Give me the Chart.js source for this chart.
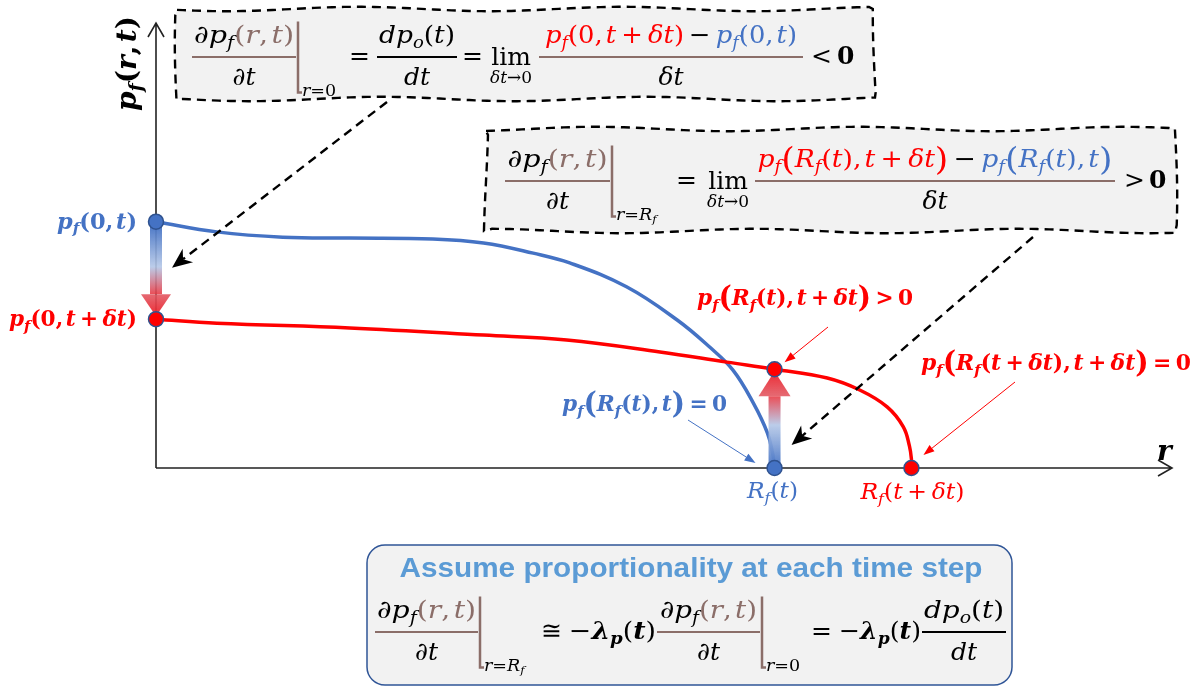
<!DOCTYPE html>
<html>
<head>
<meta charset="utf-8">
<script src="https://cdn.jsdelivr.net/npm/chart.js@4.4.0/dist/chart.umd.min.js"></script>
<style>
  html, body { margin: 0; background: #fff; }
  canvas { display: block; }
</style>
</head>
<body>
<canvas id="profile" width="1203" height="689"></canvas>
<script>
// pressure profile p_f(r, t) (blue) and one step later p_f(r, t + δt) (red), normalised r and p
const rOld = [0, 0.060, 0.125, 0.191, 0.273, 0.323, 0.372, 0.408, 0.464, 0.514, 0.546, 0.569, 0.589, 0.603, 0.608, 0.610];
const pOld = [0.556, 0.533, 0.521, 0.519, 0.517, 0.508, 0.485, 0.463, 0.409, 0.334, 0.273, 0.221, 0.147, 0.079, 0.034, 0];
const rNew = [0, 0.060, 0.191, 0.323, 0.405, 0.497, 0.563, 0.610, 0.662, 0.694, 0.721, 0.737, 0.743, 0.745, 0.745];
const pNew = [0.336, 0.327, 0.316, 0.300, 0.289, 0.262, 0.239, 0.223, 0.203, 0.176, 0.138, 0.093, 0.050, 0.020, 0];

const frontOld = rOld[rOld.length - 1];          // R_f(t)
const frontNew = rNew[rNew.length - 1];          // R_f(t + δt)
const pAtFront = pNew[rNew.indexOf(frontOld)];   // p_f(R_f(t), t + δt)

const BLUE = '#4472c4', RED = '#ff0000', BROWN = '#8b6e69', INK = '#000';
const SERIF = '"DejaVu Serif", "Liberation Serif", serif';
const SANS = '"Liberation Sans", Arial, sans-serif';

// ---- tiny math typesetter: "_x" or "_{xy}" = subscript, "[" "]" = tall parens
function tokens(str) {
  const out = [];
  for (let i = 0; i < str.length; i++) {
    let c = str[i];
    if (c === '_') {
      c = str[++i];
      if (c === '{') {
        const j = str.indexOf('}', i);
        for (const s of str.slice(i + 1, j)) out.push({ c: s, sub: true });
        i = j;
        continue;
      }
      out.push({ c, sub: true });
      continue;
    }
    out.push({ c, sub: false });
  }
  return out;
}

// segs: [text, colour, upright?, bold?]
function layout(ctx, segs, size, bold, tight) {
  const items = [];
  let x = 0;
  for (const [str, color, upright, segBold] of segs) {
    const b = segBold === undefined ? bold : segBold;
    for (const k of tokens(str)) {
      let ch = k.c, fs = k.sub ? size * 0.68 : size, dy = k.sub ? size * 0.2 : 0;
      if (ch === '[' || ch === ']') { ch = ch === '[' ? '(' : ')'; fs = size * 1.3; dy = size * 0.1; }
      const it = !upright && /[A-Za-zδλ∂]/.test(ch);
      const font = `${it ? 'italic ' : ''}${b ? 'bold ' : ''}${fs}px ${SERIF}`;
      ctx.font = font;
      const op = !tight && !k.sub && '+−=<>≅'.includes(ch);
      if (op && items.length) x += size * 0.2;
      items.push({ ch, x, dy, font, color });
      x += ctx.measureText(ch).width;
      if (op) x += size * 0.2;
      else if (ch === ',' && !k.sub && !tight) x += size * 0.12;
    }
  }
  return { items, w: x };
}

function math(ctx, segs, x, y, size, o = {}) {
  const L = layout(ctx, segs, size, o.bold, o.tight);
  const sx = o.width ? o.width / L.w : 1;
  const w = L.w * sx;
  const x0 = o.align === 'center' ? x - w / 2 : o.align === 'right' ? x - w : x;
  ctx.save();
  ctx.textBaseline = 'alphabetic';
  ctx.textAlign = 'left';
  ctx.translate(x0, y);
  if (o.rotate) ctx.rotate(o.rotate);
  ctx.scale(sx, 1);
  for (const it of L.items) {
    ctx.font = it.font;
    ctx.fillStyle = it.color;
    ctx.fillText(it.ch, it.x, it.dy);
  }
  ctx.restore();
  return w;
}

function frac(ctx, num, den, x0, x1, yLine, size, lineColor, numW) {
  const cx = (x0 + x1) / 2;
  math(ctx, num, cx, yLine - 0.55 * size, size, { align: 'center', width: numW });
  math(ctx, den, cx, yLine + 1.12 * size, size, { align: 'center' });
  ctx.save();
  ctx.strokeStyle = lineColor;
  ctx.lineWidth = 2;
  ctx.beginPath();
  ctx.moveTo(x0, yLine);
  ctx.lineTo(x1, yLine);
  ctx.stroke();
  ctx.restore();
}

// evaluation bar  |_{r=...}
function evalBar(ctx, x, yLine, size, sub) {
  const h = 1.42 * size;
  ctx.save();
  ctx.strokeStyle = BROWN;
  ctx.lineWidth = 2.5;
  ctx.beginPath();
  ctx.moveTo(x, yLine - h);
  ctx.lineTo(x, yLine + h);
  ctx.lineTo(x + 4, yLine + h);
  ctx.stroke();
  ctx.restore();
  math(ctx, [[sub, INK]], x + 4, yLine + h + 3, size * 0.7, { tight: true });
}

function op(ctx, str, x, yLine, size, bold) {
  math(ctx, [[str, INK]], x, yLine + 0.28 * size, size, { bold });
}

function lim(ctx, cx, yLine, size) {
  math(ctx, [['lim', INK, true]], cx, yLine + 0.3 * size, size, { align: 'center' });
  math(ctx, [['δt→0', INK]], cx, yLine + 1.02 * size, size * 0.68, { align: 'center', tight: true });
}

function wavyBox(ctx, x0, y0, x1, y1, ph) {
  const pts = [];
  const edge = (ax, ay, bx, by, p) => {
    const len = Math.hypot(bx - ax, by - ay), n = Math.ceil(len / 6);
    const nx = -(by - ay) / len, ny = (bx - ax) / len;
    for (let i = 0; i < n; i++) {
      const t = i / n, w = 2.2 * Math.sin(t * len / 42 + p);
      pts.push([ax + (bx - ax) * t + nx * w, ay + (by - ay) * t + ny * w]);
    }
  };
  edge(x0, y0, x1, y0, ph);
  edge(x1, y0, x1, y1, ph + 1);
  edge(x1, y1, x0, y1, ph + 2);
  edge(x0, y1, x0, y0, ph + 3);
  ctx.save();
  ctx.beginPath();
  pts.forEach(([x, y], i) => (i ? ctx.lineTo(x, y) : ctx.moveTo(x, y)));
  ctx.closePath();
  ctx.fillStyle = '#f2f2f2';
  ctx.fill();
  ctx.setLineDash([9, 6]);
  ctx.lineWidth = 2.4;
  ctx.strokeStyle = INK;
  ctx.stroke();
  ctx.restore();
}

function arrow(ctx, x0, y0, x1, y1, o = {}) {
  const { color = INK, width = 1, head = 10, headW = 7, dash = null, notch = 0 } = o;
  const a = Math.atan2(y1 - y0, x1 - x0), c = Math.cos(a), s = Math.sin(a);
  const bx = x1 - head * c, by = y1 - head * s;
  ctx.save();
  ctx.strokeStyle = color;
  ctx.fillStyle = color;
  ctx.lineWidth = width;
  if (dash) ctx.setLineDash(dash);
  ctx.beginPath();
  ctx.moveTo(x0, y0);
  ctx.lineTo(bx + notch * head * c, by + notch * head * s);
  ctx.stroke();
  ctx.setLineDash([]);
  ctx.beginPath();
  ctx.moveTo(x1, y1);
  ctx.lineTo(bx + headW / 2 * s, by - headW / 2 * c);
  ctx.lineTo(bx + notch * head * c, by + notch * head * s);
  ctx.lineTo(bx - headW / 2 * s, by + headW / 2 * c);
  ctx.closePath();
  ctx.fill();
  ctx.restore();
}

// thick shaded arrow showing the change of p over δt
function shiftArrow(ctx, x, yFrom, yTo, shaftW, headL, headW) {
  const dir = Math.sign(yTo - yFrom);
  const yb = yTo - dir * headL;
  const g = ctx.createLinearGradient(0, yFrom, 0, yb);
  g.addColorStop(0, 'rgba(68,114,196,0.95)');
  g.addColorStop(0.6, 'rgba(180,199,231,0.9)');
  g.addColorStop(1, 'rgba(232,60,70,0.9)');
  ctx.save();
  ctx.fillStyle = g;
  ctx.fillRect(x - shaftW / 2, Math.min(yFrom, yb), shaftW, Math.abs(yb - yFrom));
  const hg = ctx.createLinearGradient(0, yb, 0, yTo);
  hg.addColorStop(0, 'rgba(226,90,100,0.9)');
  hg.addColorStop(1, 'rgba(236,30,40,0.95)');
  ctx.fillStyle = hg;
  ctx.beginPath();
  ctx.moveTo(x - headW / 2, yb);
  ctx.lineTo(x + headW / 2, yb);
  ctx.lineTo(x, yTo);
  ctx.closePath();
  ctx.fill();
  ctx.restore();
}

const decor = {
  id: 'decor',
  beforeDatasetsDraw(chart) {
    const { ctx } = chart;
    const X = v => chart.scales.x.getPixelForValue(v), Y = v => chart.scales.y.getPixelForValue(v);
    const ox = X(0), oy = Y(0), top = Y(1) - 2, right = X(1) + 2;
    ctx.save();
    ctx.strokeStyle = '#222';
    ctx.lineWidth = 1.6;
    ctx.beginPath();
    ctx.moveTo(ox, oy); ctx.lineTo(ox, top);
    ctx.moveTo(ox - 8, top + 14); ctx.lineTo(ox, top); ctx.lineTo(ox + 8, top + 14);
    ctx.moveTo(ox, oy); ctx.lineTo(right, oy);
    ctx.moveTo(right - 14, oy - 8); ctx.lineTo(right, oy); ctx.lineTo(right - 14, oy + 8);
    ctx.stroke();
    ctx.restore();
    math(ctx, [['p_f(r,t)', INK]], ox - 20, top + 88, 28, { bold: true, rotate: -Math.PI / 2, width: 95 });
    math(ctx, [['r', INK]], right - 15, oy - 8, 28, { bold: true });
  },
  beforeDatasetDraw(chart, args) {
    if (args.index !== 2) return;
    const { ctx } = chart;
    const X = v => chart.scales.x.getPixelForValue(v), Y = v => chart.scales.y.getPixelForValue(v);
    shiftArrow(ctx, X(0), Y(pOld[0]) + 4, Y(pNew[0]) - 3, 12, 22, 30);
    shiftArrow(ctx, X(frontOld), Y(0), Y(pAtFront) + 2, 12, 25, 32);
  },
  afterDraw(chart) {
    const { ctx } = chart;
    const X = v => chart.scales.x.getPixelForValue(v), Y = v => chart.scales.y.getPixelForValue(v);
    const S = 25;

    // dashed pointers from the two equation boxes
    arrow(ctx, 387, 102, X(0) + 16, Y(pOld[0]) + 46, { width: 2.4, dash: [9, 6], head: 20, headW: 17, notch: 0.3 });
    arrow(ctx, 1033, 237, X(frontOld) + 17, Y(0) - 23, { width: 2.4, dash: [9, 6], head: 20, headW: 17, notch: 0.3 });

    // box: dp/dt at r = 0
    wavyBox(ctx, 177, 9, 875, 99, 0.4);
    let yl = 57;
    frac(ctx, [['∂p_f', INK], ['(r,t)', BROWN]], [['∂t', INK]], 192, 296, yl, S, BROWN, 100);
    evalBar(ctx, 298, yl, S, 'r=0');
    op(ctx, '=', 349, yl, S);
    frac(ctx, [['dp_o(t)', INK]], [['dt', INK]], 377, 457, yl, S, INK, 76);
    op(ctx, '=', 462, yl, S);
    lim(ctx, 511, yl, S);
    frac(ctx, [['p_f(0,t+δt)', RED], ['−', INK], ['p_f(0,t)', BLUE]], [['δt', INK]], 539, 803, yl, S, BROWN, 252);
    op(ctx, '<', 811, yl, S);
    math(ctx, [['0', INK, true]], 837, yl + 0.28 * S, S, { bold: true });

    // box: dp/dt at r = R_f
    wavyBox(ctx, 486, 129, 1175, 231, 2.1);
    yl = 181;
    frac(ctx, [['∂p_f', INK], ['(r,t)', BROWN]], [['∂t', INK]], 505, 610, yl, S, BROWN, 100);
    evalBar(ctx, 612, yl, S, 'r=R_f');
    op(ctx, '=', 676, yl, S);
    lim(ctx, 728, yl, S);
    frac(ctx, [['p_f[R_f(t),t+δt]', RED], ['−', INK], ['p_f[R_f(t),t]', BLUE]], [['δt', INK]], 755, 1115, yl, S, BROWN, 355);
    op(ctx, '>', 1124, yl, S);
    math(ctx, [['0', INK, true]], 1149, yl + 0.28 * S, S, { bold: true });

    // labels at the marked points
    const x0 = X(0);
    math(ctx, [['p_f(0,t)', BLUE]], x0 - 19, Y(pOld[0]) + 7, 23, { bold: true, align: 'right', width: 80 });
    math(ctx, [['p_f(0,t+δt)', RED]], x0 - 19, Y(pNew[0]) + 7, 23, { bold: true, align: 'right', width: 128 });
    math(ctx, [['p_f[R_f(t),t+δt]>0', RED]], 697, 305, 23, { bold: true, width: 216 });
    math(ctx, [['p_f[R_f(t),t]=0', BLUE]], 562, 411, 23, { bold: true, width: 165 });
    math(ctx, [['p_f[R_f(t+δt),t+δt]=0', RED]], 921, 370, 23, { bold: true, width: 270 });
    math(ctx, [['R_f(t)', BLUE]], X(frontOld) - 2, Y(0) + 30, 23, { align: 'center', width: 51 });
    math(ctx, [['R_f(t+δt)', RED]], X(frontNew) + 1, Y(0) + 31, 23, { align: 'center', width: 104 });

    // thin leaders to the points
    arrow(ctx, 828, 327, X(frontOld) + 10, Y(pAtFront) - 7, { color: RED, width: 1, head: 11, headW: 8 });
    arrow(ctx, 688, 420, X(frontOld) - 19, Y(0) - 5, { color: BLUE, width: 1, head: 11, headW: 8 });
    arrow(ctx, 1015, 382, X(frontNew) + 12, Y(0) - 13, { color: RED, width: 1, head: 11, headW: 8 });

    // proportionality assumption
    ctx.save();
    ctx.beginPath();
    ctx.roundRect(367, 545, 645, 140, 18);
    ctx.fillStyle = '#f2f2f2';
    ctx.fill();
    ctx.strokeStyle = '#2f5597';
    ctx.lineWidth = 1.5;
    ctx.stroke();
    ctx.font = `bold 28px ${SANS}`;
    const title = 'Assume proportionality at each time step';
    const tw = ctx.measureText(title).width;
    ctx.translate(691, 577);
    ctx.scale(583 / tw, 1);
    ctx.fillStyle = '#5b9bd5';
    ctx.textAlign = 'center';
    ctx.fillText(title, 0, 0);
    ctx.restore();

    yl = 632;
    frac(ctx, [['∂p_f', INK], ['(r,t)', BROWN]], [['∂t', INK]], 375, 478, yl, S, BROWN, 99);
    evalBar(ctx, 480, yl, S, 'r=R_f');
    op(ctx, '≅', 541, yl, S);
    math(ctx, [['−', INK, false, false], ['λ_p', INK, false, true], ['(', INK, false, false], ['t', INK, false, true], [')', INK, false, false]],
      569, yl + 0.28 * S, S, { width: 87, tight: true });
    frac(ctx, [['∂p_f', INK], ['(r,t)', BROWN]], [['∂t', INK]], 657, 760, yl, S, BROWN, 97);
    evalBar(ctx, 762, yl, S, 'r=0');
    op(ctx, '=', 811, yl, S);
    math(ctx, [['−', INK, false, false], ['λ_p', INK, false, true], ['(', INK, false, false], ['t', INK, false, true], [')', INK, false, false]],
      839, yl + 0.28 * S, S, { width: 82, tight: true });
    frac(ctx, [['dp_o(t)', INK]], [['dt', INK]], 922, 1006, yl, S, INK, 80);
  }
};

new Chart(document.getElementById('profile'), {
  type: 'scatter',
  data: {
    datasets: [
      {
        data: rOld.map((r, i) => ({ x: r, y: pOld[i] })),
        showLine: true, borderColor: BLUE, borderWidth: 3.5, pointRadius: 0,
        tension: 0.4, clip: false, order: 4
      },
      {
        data: rNew.map((r, i) => ({ x: r, y: pNew[i] })),
        showLine: true, borderColor: RED, borderWidth: 3.5, pointRadius: 0,
        tension: 0.4, clip: false, order: 3
      },
      {
        data: [{ x: 0, y: pOld[0] }, { x: frontOld, y: 0 }],
        pointRadius: 7.5, pointBackgroundColor: BLUE, pointBorderColor: '#2f528f',
        pointBorderWidth: 1.5, clip: false, order: 2
      },
      {
        data: [{ x: 0, y: pNew[0] }, { x: frontOld, y: pAtFront }, { x: frontNew, y: 0 }],
        pointRadius: 7.5, pointBackgroundColor: RED, pointBorderColor: '#2f528f',
        pointBorderWidth: 1.5, clip: false, order: 1
      }
    ]
  },
  options: {
    responsive: false,
    animation: false,
    devicePixelRatio: 1,
    layout: { padding: { left: 156, top: 25, right: 33, bottom: 221 } },
    scales: {
      x: { type: 'linear', min: 0, max: 1, display: false },
      y: { min: 0, max: 1, display: false }
    },
    plugins: { legend: { display: false }, tooltip: { enabled: false } }
  },
  plugins: [decor]
});
</script>
</body>
</html>
